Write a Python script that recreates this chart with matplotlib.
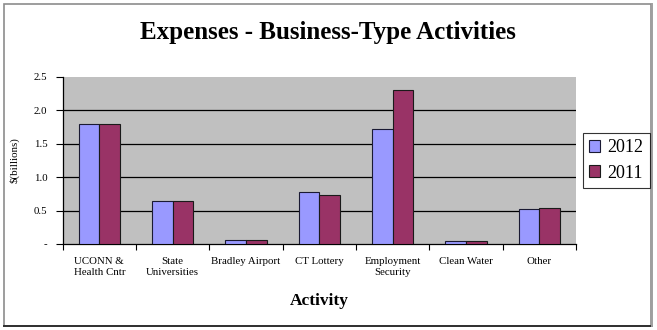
import numpy as np
import matplotlib.pyplot as plt
from matplotlib.patches import Rectangle
from matplotlib.lines import Line2D

# ---- data ($ billions) ----
activities = ['UCONN &\nHealth Cntr', 'State\nUniversities', 'Bradley Airport',
              'CT Lottery', 'Employment\nSecurity', 'Clean Water', 'Other']
exp_2012 = [1.80, 0.64, 0.06, 0.78, 1.72, 0.05, 0.53]
exp_2011 = [1.80, 0.64, 0.06, 0.73, 2.30, 0.05, 0.54]
years = ['2012', '2011']
ytick_vals = [0, 0.5, 1.0, 1.5, 2.0, 2.5]
ytick_text = ['-', '0.5', '1.0', '1.5', '2.0', '2.5']

plt.rcParams['font.family'] = ['Liberation Serif', 'DejaVu Serif']

fig = plt.figure(figsize=(6.57, 3.30), dpi=100)
fig.patch.set_facecolor('white')

# outer chart frame with shadow on bottom/right
fig.patches.append(Rectangle((4/657, 1-326/330), 647/657, 322/330, transform=fig.transFigure,
                             fill=False, edgecolor='#8c8c8c', linewidth=1.2))
fig.lines.append(Line2D([4/657, 652/657], [1-326/330, 1-326/330], transform=fig.transFigure,
                        color='#303030', linewidth=1.4))
fig.lines.append(Line2D([652/657, 652/657], [1-326/330, 1-4/330], transform=fig.transFigure,
                        color='#a0a0a0', linewidth=1.4))

ax = fig.add_axes([62.7/657, 1-244/330, (576-62.7)/657, (244-77)/330])
ax.set_facecolor('#c0c0c0')

x = np.arange(len(activities))
w = 0.28
ax.bar(x - w/2, exp_2012, w, color='#9999ff', edgecolor='#1a1a33', linewidth=0.8,
       label=years[0], zorder=3)
ax.bar(x + w/2, exp_2011, w, color='#993366', edgecolor='#1a1a1a', linewidth=0.8,
       label=years[1], zorder=3)

for yv in ytick_vals[1:-1]:
    ax.axhline(yv, color='black', linewidth=0.9, zorder=1)

ax.set_xlim(-0.5, len(activities) - 0.5)
ax.set_ylim(0, 2.5)

ax.set_yticks(ytick_vals)
ax.set_yticklabels(ytick_text, fontsize=7.8)
ax.tick_params(axis='y', direction='out', length=5, width=0.8, pad=6)

# category boundaries get the tick marks, centres get the labels
ax.set_xticks(np.arange(len(activities) + 1) - 0.5)
ax.set_xticklabels([])
ax.tick_params(axis='x', which='major', direction='out', length=4, width=0.8)
ax.set_xticks(x, minor=True)
ax.set_xticklabels(activities, minor=True, fontsize=7.8, linespacing=1.3)
ax.tick_params(axis='x', which='minor', length=0, pad=9)

for s in ['top', 'right']:
    ax.spines[s].set_visible(False)
ax.spines['left'].set_linewidth(0.9)
ax.spines['bottom'].set_linewidth(0.9)

ax.set_ylabel('$(billions)', fontsize=7.8, labelpad=10)

fig.text(328/657, 1-33/330, 'Expenses - Business-Type Activities', ha='center', va='center',
         fontsize=18, fontweight='bold')
fig.text(319/657, 1-301/330, 'Activity', ha='center', va='center',
         fontsize=12.5, fontweight='bold')

leg = fig.legend(loc='center', bbox_to_anchor=(616.5/657, 1-160.5/330), fontsize=13,
                 frameon=True, fancybox=False, handlelength=0.6, handleheight=0.6,
                 handletextpad=0.4, labelspacing=0.45, borderpad=0.35)
leg.get_frame().set_edgecolor('black')
leg.get_frame().set_linewidth(0.8)

fig.savefig('out.png', dpi=100)
